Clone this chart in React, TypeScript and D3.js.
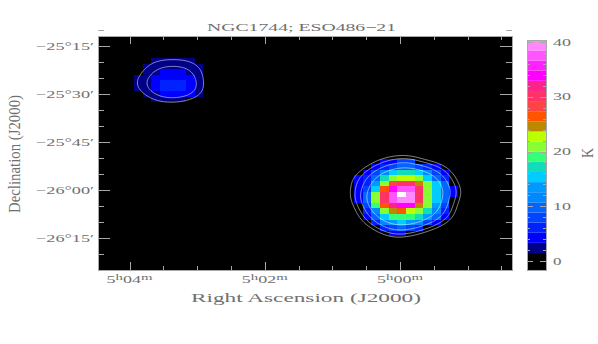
import React, { useEffect, useRef } from "react";
import * as d3 from "d3";

const titleText = "NGC1744; ESO486\u221221";
const xAxisTitle = "Right Ascension (J2000)";
const yAxisTitle = "Declination (J2000)";

// RA in minutes east of 5h00m, dec in arcmin
const raMajor = [4, 2, 0];
const raMinor = [4, 3.5, 3, 2.5, 2, 1.5, 1, 0.5, 0, -0.5, -1, -1.5];
const decMajor = [-1515, -1530, -1545, -1560, -1575];
const decMinor = [-1510, -1515, -1520, -1525, -1530, -1535, -1540, -1545, -1550, -1555, -1560, -1565, -1570, -1575, -1580];
const decLabels = ["\u221225\u00b015\u2032", "\u221225\u00b030\u2032", "\u221225\u00b045\u2032", "\u221226\u00b000\u2032", "\u221226\u00b015\u2032"];
const barLabels = [0, 10, 20, 30, 40];
const barMinor = [0, 2, 4, 6, 8, 10, 12, 14, 16, 18, 20, 22, 24, 26, 28, 30, 32, 34, 36, 38, 40];

// colour table, low to high; black below the first threshold
const levelColors = [
  "#000000", "#000088", "#0000ff", "#0022ff", "#0044ff", "#0066ff", "#0088ff", "#0099ff",
  "#00ccff", "#11ddbb", "#33ff77", "#88ff33", "#bbff00", "#bb8800", "#ff5500", "#ff4444",
  "#ff3366", "#ff2288", "#ff00ff", "#ff22ff", "#ff55ff", "#ff88ff",
];
const levelEdges = [1.46, 3.31, 5.16, 7.01, 8.86, 10.71, 12.56, 14.41, 16.26, 18.11, 19.96, 21.81, 23.66, 25.51, 27.36, 29.21, 31.06, 32.91, 34.76, 36.61, 38.46];
const levelTop = 40.31;
const levelBottom = -1.64;

// brightness temperature per beam cell, K
const eastRows = [
  [0, 0, 2.4, 2.4, 2.4, 2.4, 2.4, 0],
  [0, 2.4, 2.4, 2.4, 2.4, 2.4, 2.4, 2.4],
  [0, 2.4, 2.4, 4.2, 4.2, 4.2, 2.4, 2.4],
  [2.4, 2.4, 4.2, 4.2, 4.2, 4.2, 4.2, 2.4],
  [2.4, 2.4, 4.2, 6, 6, 6, 4.2, 2.4],
  [2.4, 2.4, 4.2, 6, 6, 6, 4.2, 2.4],
  [0, 2.4, 2.4, 4.2, 4.2, 4.2, 4.2, 2.4],
  [0, 0, 2.4, 2.4, 2.4, 2.4, 0, 0],
];
const westRows = [
  [0, 0, 0, 4.2, 4.2, 8, 8, 0, 0, 0, 0, 0],
  [0, 0, 4.2, 6, 8, 9.8, 9.8, 8, 6, 4.2, 0, 0],
  [0, 4.2, 8, 11.7, 15.5, 17, 17, 15.5, 11.7, 8, 4.2, 0],
  [4.2, 6, 9.8, 17, 21, 22.8, 22.8, 21, 15.5, 9.8, 6, 0],
  [4.2, 6, 13.5, 21, 28, 30, 30, 24.7, 21, 15.5, 9.8, 0],
  [4.2, 8, 15.5, 26.5, 34, 37.5, 37.5, 30, 21, 15.5, 9.8, 4.2],
  [4.2, 9.8, 21, 30, 37.5, 42, 39, 30, 21, 15.5, 9.8, 4.2],
  [4.2, 9.8, 21, 30, 37.5, 39, 39, 30, 21, 15.5, 9.8, 0],
  [0, 8, 19, 26.5, 32, 34, 34, 24.7, 21, 13.5, 8, 0],
  [0, 6, 11.7, 21, 24.7, 26.5, 22.8, 21, 17, 11.7, 6, 0],
  [0, 4.2, 9.8, 15.5, 19, 19, 19, 17, 13.5, 9.8, 4.2, 0],
  [0, 0, 6, 11.7, 13.5, 15.5, 13.5, 11.7, 8, 4.2, 0, 0],
  [0, 0, 0, 6, 8, 9.8, 8, 6, 0, 0, 0, 0],
  [0, 0, 0, 0, 4.2, 4.2, 0, 0, 0, 0, 0, 0],
];
const eastContours = [1.5, 2.7];
const westContours = [2, 3.6, 6.5, 11];

const raStep = 0.1283;
const decStep = 1.72;
const eastCorner = [3.935, -1518.8];
const westCorner = [0.68, -1550.3];

const ink = "#707070";
const axisGrey = "#a8a8a8";

const App = () => {
  const ref = useRef<SVGSVGElement | null>(null);

  useEffect(() => {
    const svg = d3.select(ref.current);
    svg.selectAll("*").remove();

    const left = 98, right = 512, top = 36, bottom = 270;
    const x = d3.scaleLinear().domain([4, 0]).range([129.5, 400]);
    const y = d3.scaleLinear().domain([-1515, -1575]).range([46, 238]);
    const barY = d3.scaleLinear().domain([0, 40]).range([261, 42]);
    const color = d3.scaleThreshold<number, string>().domain(levelEdges).range(levelColors);

    svg.append("rect").attr("x", left).attr("y", top).attr("width", right - left).attr("height", bottom - top).attr("fill", "#000");

    const drawField = (rows: number[][], corner: number[], levels: number[]) => {
      const g = svg.append("g");
      rows.forEach((row, j) => {
        row.forEach((v, i) => {
          if (v < levelEdges[0]) return;
          const x0 = x(corner[0] - i * raStep), x1 = x(corner[0] - (i + 1) * raStep);
          const y0 = y(corner[1] - j * decStep), y1 = y(corner[1] - (j + 1) * decStep);
          g.append("rect").attr("x", x0).attr("y", y0).attr("width", x1 - x0).attr("height", y1 - y0)
            .attr("fill", v > levelTop ? "#ffffff" : color(v)).attr("shape-rendering", "crispEdges");
        });
      });
      // resample finer and blur so the contours come out round, with an empty margin so they close
      const k = 5, pad = 3;
      const nx = (rows[0].length + pad * 2) * k, ny = (rows.length + pad * 2) * k;
      const flat = new Float64Array(nx * ny);
      for (let j = 0; j < ny; j++) {
        for (let i = 0; i < nx; i++) {
          flat[j * nx + i] = rows[Math.floor(j / k) - pad]?.[Math.floor(i / k) - pad] ?? 0;
        }
      }
      d3.blur2({ data: flat, width: nx, height: ny }, 5);
      const project = d3.geoTransform({
        point(px: number, py: number) {
          this.stream.point(x(corner[0] - (px / k - pad) * raStep), y(corner[1] - (py / k - pad) * decStep));
        },
      });
      const path = d3.geoPath(project);
      d3.contours().size([nx, ny]).thresholds(levels)(flat as any).forEach((c) => {
        g.append("path").attr("d", path(c as any)).attr("fill", "none").attr("stroke", "#ffffff").attr("stroke-opacity", 0.65).attr("stroke-width", 0.8);
      });
    };
    drawField(eastRows, eastCorner, eastContours);
    drawField(westRows, westCorner, westContours);

    const line = (x1: number, y1: number, x2: number, y2: number) =>
      svg.append("line").attr("x1", x1).attr("y1", y1).attr("x2", x2).attr("y2", y2).attr("stroke", axisGrey).attr("stroke-width", 1);

    raMinor.forEach((t) => {
      const len = raMajor.includes(t) ? 8 : 4;
      const px = Math.round(x(t)) + 0.5;
      line(px, bottom, px, bottom - len);
      line(px, top, px, top + len);
    });
    decMinor.forEach((t) => {
      const len = decMajor.includes(t) ? 12 : 6;
      const py = Math.round(y(t)) + 0.5;
      line(left, py, left + len, py);
      line(right, py, right - len, py);
    });

    svg.append("rect").attr("x", left + 0.5).attr("y", top + 0.5).attr("width", right - left).attr("height", bottom - top)
      .attr("fill", "none").attr("stroke", axisGrey);

    // colour bar
    const barLeft = 527, barRight = 546;
    const edges = [levelBottom, ...levelEdges, levelTop];
    levelColors.forEach((c, i) => {
      svg.append("rect").attr("x", barLeft).attr("width", barRight - barLeft)
        .attr("y", barY(edges[i + 1])).attr("height", barY(edges[i]) - barY(edges[i + 1])).attr("fill", c);
    });
    barMinor.forEach((t) => {
      const len = barLabels.includes(t) ? 6 : 3;
      const py = Math.round(barY(t)) + 0.5;
      line(barLeft, py, barLeft + len, py);
      line(barRight, py, barRight - len, py);
    });
    svg.append("rect").attr("x", barLeft + 0.5).attr("y", 40.5).attr("width", barRight - barLeft).attr("height", 230)
      .attr("fill", "none").attr("stroke", axisGrey);

    const label = (txt: string, px: number, py: number, size: number, width: number, anchor = "start") =>
      svg.append("text").attr("x", px).attr("y", py).attr("font-size", size).attr("font-family", "'Liberation Serif', serif")
        .attr("fill", ink).attr("text-anchor", anchor).attr("textLength", width).attr("lengthAdjust", "spacingAndGlyphs").text(txt);

    label(titleText, 207, 31, 11, 189);
    label(xAxisTitle, 191, 302, 12, 230);

    decMajor.forEach((t, i) => label(decLabels[i], 36, y(t) + 3.5, 10, 58));

    raMajor.forEach((t) => {
      const xText = svg.append("text").attr("x", x(t) - 23).attr("y", 283).attr("font-size", 11)
        .attr("font-family", "'Liberation Serif', serif").attr("fill", ink)
        .attr("textLength", 46).attr("lengthAdjust", "spacingAndGlyphs");
      xText.append("tspan").text("5");
      xText.append("tspan").attr("font-size", 9).attr("dy", -3).text("h");
      xText.append("tspan").attr("dy", 3).text(`0${t}`);
      xText.append("tspan").attr("font-size", 9).attr("dy", -3).text("m");
    });

    barLabels.forEach((t) => label(String(t), 553, barY(t) + 3.5, 10, t === 0 ? 8.5 : 18));

    const rotated = (txt: string, px: number, py: number, size: number, width: number) =>
      svg.append("text").attr("transform", `translate(${px},${py}) rotate(-90)`).attr("font-size", size)
        .attr("font-family", "'Liberation Serif', serif").attr("fill", ink).attr("text-anchor", "middle")
        .attr("textLength", width).attr("lengthAdjust", "spacingAndGlyphs").text(txt);

    rotated(yAxisTitle, 20, 154, 17, 118);
    rotated("K", 593, 153, 16, 10);
  }, []);

  return (
    <svg ref={ref} width={598} height={344} style={{ position: "absolute", left: 0, top: 0, background: "#fff" }} />
  );
};

export default App;
